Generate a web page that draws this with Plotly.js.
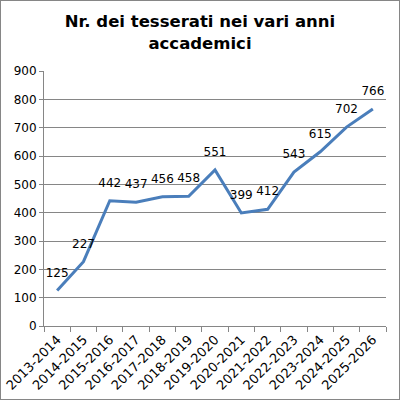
<!DOCTYPE html>
<html><head><meta charset="utf-8">
<script src="https://cdn.plot.ly/plotly-3.0.1.min.js"></script>
<style>
html,body{margin:0;padding:0;background:#fff;}
#c{width:398px;height:398px;border:1px solid #868686;}
</style></head><body>
<div id="c"></div>
<script>
const categories = ["2013-2014","2014-2015","2015-2016","2016-2017","2017-2018","2018-2019","2019-2020","2020-2021","2021-2022","2022-2023","2023-2024","2024-2025","2025-2026"];
const values = [125,227,442,437,456,458,551,399,412,543,615,702,766];
const yTicks = [0,100,200,300,400,500,600,700,800,900];
const font = "DejaVu Sans, Verdana, sans-serif";
Plotly.newPlot("c", [{
  x: categories, y: values, type: "scatter", mode: "lines+markers+text",
  text: values.map(String), textposition: "top center",
  textfont: {family: font, size: 12, color: "#000"},
  marker: {size: 16, opacity: 0, color: "#4A7EBB"},
  line: {color: "#4A7EBB", width: 3}, cliponaxis: false, hoverinfo: "none"
}], {
  width: 398, height: 398,
  margin: {l: 43, r: 13, t: 70, b: 73},
  paper_bgcolor: "#fff", plot_bgcolor: "#fff",
  title: {text: "<b>Nr. dei tesserati nei vari anni<br>accademici</b>", font: {family: font, size: 16.5, color: "#000"}, x: 0.5, xanchor: "center", y: 0.934, yanchor: "top"},
  showlegend: false,
  xaxis: {type: "category", tickangle: -45, tickson: "boundaries", ticks: "outside", ticklen: 5, tickcolor: "#868686",
    showline: true, linecolor: "#868686", linewidth: 1, showgrid: false, tickfont: {family: font, size: 13, color: "#000"},
    range: [-0.5, 12.5]},
  yaxis: {range: [0, 900], tickvals: yTicks, ticks: "outside", ticklen: 4, tickcolor: "#868686",
    showline: true, linecolor: "#868686", gridcolor: "#868686", gridwidth: 1, zeroline: false,
    tickfont: {family: font, size: 12, color: "#000"}}
}, {staticPlot: true});
</script></body></html>
